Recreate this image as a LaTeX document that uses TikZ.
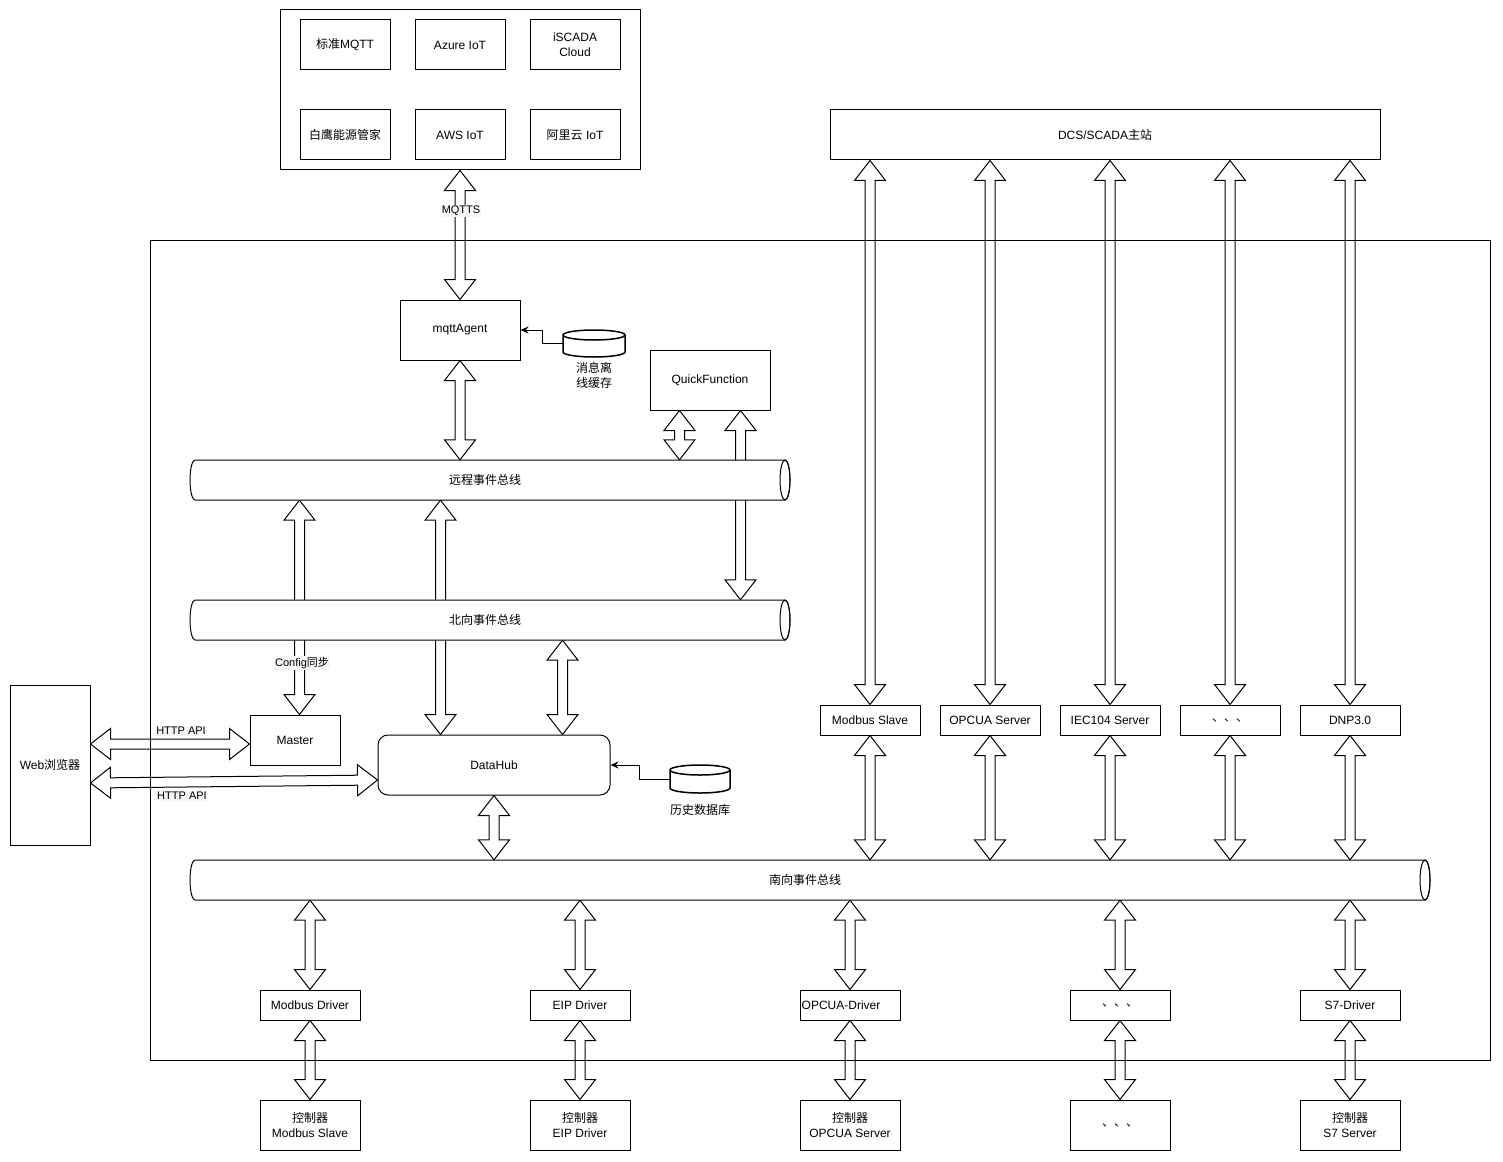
\documentclass[tikz,border=0pt]{standalone}
\usepackage{fontspec}
\setmainfont{Liberation Sans}
\newfontfamily\cjk{Noto Sans CJK SC}
\usetikzlibrary{calc,arrows.meta}
\pgfdeclarelayer{bg}
\pgfsetlayers{bg,main}
\tikzset{
  every node/.style={font=\fontsize{12}{15}\selectfont},
  box/.style={draw, fill=white, line width=1pt, inner sep=0pt, align=center},
  flexline/.style={draw, line width=1pt, line join=miter},
  lbl/.style={fill=black!4, inner sep=1pt, font=\fontsize{11}{13}\selectfont},
  conn/.style={line width=1pt, -{Stealth[length=8pt,width=7pt]}},
  plain/.style={inner sep=0pt, align=center},
}
\newcommand\dflex[2]{%
  \path (#1) coordinate (fa) (#2) coordinate (fb);
  \path ($(fa)!20pt!(fb)$) coordinate (fa1) ($(fb)!20pt!(fa)$) coordinate (fb1);
  \draw[flexline] (fa) -- ($(fa1)!15.5pt!-90:(fb)$) -- ($(fa1)!5pt!-90:(fb)$)
    -- ($(fb1)!5pt!90:(fa)$) -- ($(fb1)!15.5pt!90:(fa)$) -- (fb)
    -- ($(fb1)!15.5pt!-90:(fa)$) -- ($(fb1)!5pt!-90:(fa)$)
    -- ($(fa1)!5pt!90:(fb)$) -- ($(fa1)!15.5pt!90:(fb)$) -- cycle;}
\newcommand\busshape[3]{%
  \draw[line width=1pt, fill=white] (#1+5,#2) -- (#3-5,#2)
    arc[start angle=90,end angle=-90,x radius=5pt,y radius=20pt]
    -- (#1+5,#2+40) arc[start angle=270,end angle=90,x radius=5pt,y radius=20pt] -- cycle;
  \draw[line width=1pt] (#3-5,#2+20) ellipse[x radius=5pt,y radius=20pt];}
\newcommand\dbshape[4]{%
  \draw[line width=1.5pt, fill=white] (#1-#3,#2+5) -- (#1-#3,#2+#4-5)
    arc[start angle=180,end angle=360,x radius=#3pt,y radius=5pt]
    -- (#1+#3,#2+5) arc[start angle=0,end angle=180,x radius=#3pt,y radius=5pt] -- cycle;
  \draw[line width=1.5pt] (#1-#3,#2+5) arc[start angle=180,end angle=360,x radius=#3pt,y radius=5pt];}
\begin{document}
\begin{tikzpicture}[x=1pt,y=-1pt]
\useasboundingbox (0,0) rectangle (1503,1161);
% cloud box
\node[box, minimum width=360pt, minimum height=160pt] (cloud) at (460,90) {};
\node[box, minimum width=90pt, minimum height=50pt] (c1) at (345,45) {{\cjk 标准}MQTT};
\node[box, minimum width=90pt, minimum height=50pt] (c2) at (460,45) {Azure IoT};
\node[box, minimum width=90pt, minimum height=50pt] (c3) at (575,45) {iSCADA\\Cloud};
\node[box, minimum width=90pt, minimum height=50pt] (c4) at (345,135) {\cjk 白鹰能源管家};
\node[box, minimum width=90pt, minimum height=50pt] (c5) at (460,135) {AWS IoT};
\node[box, minimum width=90pt, minimum height=50pt] (c6) at (575,135) {{\cjk 阿里云} IoT};
% DCS
\node[box, minimum width=550pt, minimum height=50pt] (dcs) at (1105,135) {DCS/SCADA{\cjk 主站}};
% agents
\node[box, minimum width=120pt, minimum height=60pt] (mqtt) at (460,330) {mqttAgent};
\node[box, minimum width=120pt, minimum height=60pt] (qf) at (710,380) {QuickFunction};
\node[box, minimum width=90pt, minimum height=50pt] (master) at (295,740) {Master};
\node[box, rounded corners=10pt, minimum width=232pt, minimum height=60pt] (datahub) at (494,765) {DataHub};
\node[box, minimum width=80pt, minimum height=160pt] (web) at (50,765) {Web{\cjk 浏览器}};
% buses
\busshape{190}{460}{790}
\node[plain, minimum width=600pt, minimum height=40pt] (rbus) at (490,480) {};
\node[plain] (rbusl) at (485,480) {\cjk 远程事件总线};
\busshape{190}{600}{790}
\node[plain, minimum width=600pt, minimum height=40pt] (nbus) at (490,620) {};
\node[plain] (nbusl) at (485,620) {\cjk 北向事件总线};
\busshape{190}{860}{1430}
\node[plain, minimum width=1240pt, minimum height=40pt] (sbus) at (810,880) {};
\node[plain] (sbusl) at (805,880) {\cjk 南向事件总线};
% databases
\dbshape{594}{330}{31}{27}
\node[plain, minimum width=62pt, minimum height=27pt] (cache) at (594,343.5) {};
\node[plain] (cachel) at (594,375) {\cjk 消息离\\\cjk 线缓存};
\dbshape{700}{765}{30}{28}
\node[plain, minimum width=60pt, minimum height=28pt] (hdb) at (700,779) {};
\node[plain] (hdbl) at (700,810) {\cjk 历史数据库};
% server row
\foreach \n/\x/\t in {ms/870/Modbus Slave, os/990/OPCUA Server, is/1110/IEC104 Server, es/1230/{\cjk 、、、}, dn/1350/DNP3.0}
  \node[box, minimum width=100pt, minimum height=30pt] (\n) at (\x,720) {\t};
% driver row
\foreach \n/\x/\t in {d1/310/Modbus Driver, d2/580/EIP Driver, d4/1120/{\cjk 、、、}, d5/1350/S7-Driver}
  \node[box, minimum width=100pt, minimum height=30pt] (\n) at (\x,1005) {\t};
\node[box, minimum width=100pt, minimum height=30pt] (d3) at (850,1005) {};
\node[plain] (d3l) at (841,1005) {OPCUA-Driver};
% controller row
\foreach \n/\x/\t in {k1/310/{{\cjk 控制器}\\Modbus Slave}, k2/580/{{\cjk 控制器}\\EIP Driver}, k3/850/{{\cjk 控制器}\\OPCUA Server}, k4/1120/{\cjk 、、、}, k5/1350/{{\cjk 控制器}\\S7 Server}}
  \node[box, minimum width=100pt, minimum height=50pt] (\n) at (\x,1125) {\t};
% arrows and frame on background
\begin{pgfonlayer}{bg}
\draw[line width=1pt] (150,240) rectangle (1490,1060);
\dflex{cloud.south}{mqtt.north}
\dflex{mqtt.south}{mqtt.south |- rbus.north}
\coordinate (qa) at ($(qf.south west)+(30,0)$);
\coordinate (qb) at ($(qf.south west)+(91,0)$);
\dflex{qa}{qa |- rbus.north}
\dflex{qb}{qb |- nbus.north}
\coordinate (ca) at ($(master.north west)+(50,0)$);
\dflex{ca |- rbus.south}{ca}
\coordinate (da) at ($(datahub.north west)+(63,0)$);
\dflex{da |- rbus.south}{da}
\coordinate (db) at ($(datahub.north west)+(185,0)$);
\dflex{db |- nbus.south}{db}
\dflex{datahub.south}{datahub.south |- sbus.north}
\coordinate (h1a) at ($(web.east)+(0,-21)$);
\dflex{h1a}{h1a -| master.west}
\coordinate (h2a) at ($(web.east)+(0,18)$);
\coordinate (h2b) at ($(datahub.west)+(0,15)$);
\dflex{h2a}{h2b}
\foreach \s in {ms,os,is,es,dn}{
  \dflex{dcs.south -| \s.north}{\s.north}
  \dflex{\s.south}{\s.south |- sbus.north}
}
\foreach \d/\k in {d1/k1,d2/k2,d3/k3,d4/k4,d5/k5}{
  \dflex{\d.north |- sbus.south}{\d.north}
  \dflex{\d.south}{\k.north}
}
\end{pgfonlayer}
% small connectors
\draw[conn] (cache.west) -- ++(-20,0) |- (mqtt.east);
\draw[conn] (hdb.west) -- ++(-30,0) |- (datahub.east);
% labels
\node[lbl] (lmqtts) at (461,211) {MQTTS};
\node[lbl] (lcfg) at (302,663) {Config{\cjk 同步}};
\node[lbl] (lh1) at (181,731) {HTTP API};
\node[lbl] (lh2) at (182,796) {HTTP API};
\end{tikzpicture}
\end{document}
